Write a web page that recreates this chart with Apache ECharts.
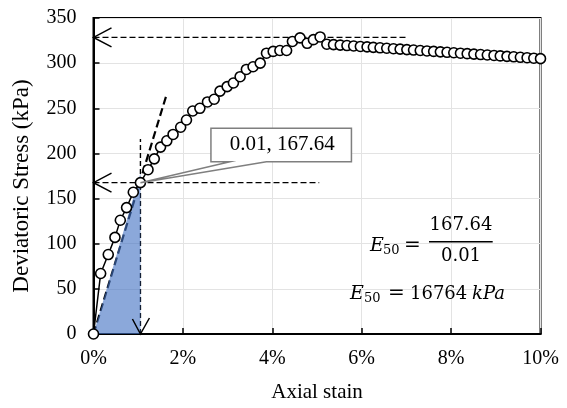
<!DOCTYPE html>
<html><head><meta charset="utf-8">
<script src="https://cdn.jsdelivr.net/npm/echarts@6/dist/echarts.min.js"></script>
<style>html,body{margin:0;padding:0;background:#fff}#c{width:567px;height:408px}</style>
</head><body><div id="c"></div>
<script>
// Axial strain (%) and deviatoric stress (kPa)
const strain = [0,0.16,0.33,0.48,0.60,0.74,0.89,1.05,1.22,1.36,1.50,1.64,1.78,1.95,2.08,2.22,2.38,2.55,2.70,2.83,2.99,3.13,3.28,3.42,3.57,3.73,3.87,4.02,4.17,4.32,4.45,4.62,4.78,4.92,5.07,5.22,
  5.37,5.52,5.67,5.82,5.97,6.12,6.26,6.41,6.56,6.71,6.86,7.01,7.16,7.31,7.46,7.61,7.76,7.91,8.06,8.21,8.36,8.51,8.66,8.81,8.96,9.10,9.25,9.40,9.55,9.70,9.85,10.0];
const stress = [0,67,88,107,126,140,157,167.64,182,194,207,214,221,229,237,247,250,257,260,269,274,278,285,293,296,300,311,313,314,314,324,328,322,326,329,321,
  320.5,320,319.5,319,318.5,318,317.5,317,316.5,316,315.5,315,314.5,314,313.5,313,312.5,312,311.5,311,310.5,310,309.5,309,308.5,308,307.5,307,306.5,306,305.5,305];
const xTickValues = [0,2,4,6,8,10];
const yTickValues = [0,50,100,150,200,250,300,350];
const peakLine = [[0,328.5],[7.0,328.5]];
const halfLine = [[0,167.64],[5.05,167.64]];
const strainLine = [[1.05,0],[1.05,216]];
const tangentLine = [[0,0],[1.64,266]];
const triangle = [[0,0],[1.05,178]];
const calloutPoint = [1.05,167.64];
const calloutText = '0.01, 167.64';
const yName = 'Deviatoric Stress (kPa)';

const FONT = '"Liberation Serif", "Times New Roman", serif';
const MFONT = '"DejaVu Serif", serif';
const chart = echarts.init(document.getElementById('c'));
const dashed = (data, w, dash, z) => ({type:'line', data, symbol:'none', silent:true, z,
  lineStyle:{color:'#000', width:w, type:dash}, animation:false});

chart.setOption({
  animation:false,
  grid:{left:93.5, right:26.5, top:18, bottom:70.5, show:true, borderColor:'#000', borderWidth:2, containLabel:false},
  xAxis:{type:'value', min:0, max:10, interval:2,
    name:'Axial stain', nameLocation:'middle', nameGap:48,
    nameTextStyle:{fontFamily:FONT, fontSize:21, color:'#000'},
    axisLine:{lineStyle:{color:'#000', width:2}},
    axisTick:{inside:true, length:6, lineStyle:{color:'#000', width:1.5}},
    axisLabel:{margin:15, fontFamily:FONT, fontSize:20, color:'#000', formatter:v=>v+'%'},
    splitLine:{show:true, lineStyle:{color:'#e3e3e3', width:1}}},
  yAxis:{type:'value', min:0, max:350, interval:50,
    axisLine:{show:true, lineStyle:{color:'#000', width:2}},
    axisTick:{show:true, inside:true, length:6, lineStyle:{color:'#000', width:1.5}},
    axisLabel:{margin:17, fontFamily:FONT, fontSize:20, color:'#000'},
    splitLine:{show:true, lineStyle:{color:'#e3e3e3', width:1}}},
  series:[
    dashed(peakLine, 1.4, [6,3], 2),
    dashed(halfLine, 1.4, [6,3], 2),
    dashed(strainLine, 1.4, [5,3], 2),
    dashed(tangentLine, 2.2, [8,4], 2),
    {type:'line', data:triangle, symbol:'none', silent:true, z:3,
      lineStyle:{width:0}, areaStyle:{color:'rgba(68,114,196,0.62)', opacity:1, origin:'start'}},
    {type:'line', data:strain.map((s,i)=>[s,stress[i]]), z:5,
      symbol:'circle', symbolSize:10, showAllSymbol:true,
      lineStyle:{color:'#000', width:1.5},
      itemStyle:{color:'#fff', borderColor:'#000', borderWidth:1.6}}
  ]
});

const P = (p)=>chart.convertToPixel({gridIndex:0}, p);
const g = [];
function arrow(tip, a, b){
  g.push({type:'polyline', silent:true, z:10, shape:{points:[[tip[0]+a[0],tip[1]+a[1]], tip, [tip[0]+b[0],tip[1]+b[1]]]},
    style:{stroke:'#000', lineWidth:1.5, fill:null}});
}
const t1 = P(peakLine[0]); arrow(t1,[18,-9.5],[18,9.5]);
const t2 = P(halfLine[0]); arrow(t2,[18,-9.5],[18,9.5]);
const t3 = P(strainLine[0]); arrow(t3,[-8,-15],[9,-16]);

// y-axis title
g.push({type:'text', silent:true, z:12, x:22, y:186, rotation:Math.PI/2,
  style:{text:yName, x:0, y:0, textAlign:'center', textVerticalAlign:'middle', align:'center', verticalAlign:'middle',
    font:'23px '+FONT, fill:'#000'}});

// callout
const tip = P(calloutPoint);
const bx0 = tip[0]+70.5, bx1 = tip[0]+211, by0 = tip[1]-54.5, by1 = tip[1]-21;
g.push({type:'polygon', silent:true, z:11, shape:{points:[[bx0,by0],[bx1,by0],[bx1,by1],[tip[0]+126,by1],tip,[tip[0]+89.5,by1],[bx0,by1]]},
  style:{fill:'#fff', stroke:'#7f7f7f', lineWidth:1.5}});
g.push({type:'text', silent:true, z:12, style:{text:calloutText, x:(bx0+bx1)/2+1, y:(by0+by1)/2,
  textAlign:'center', textVerticalAlign:'middle', align:'center', verticalAlign:'middle', font:'21px '+FONT, fill:'#000'}});

// equations
function txt(s, x, y, font, al){
  g.push({type:'text', silent:true, z:12, style:{text:s, x, y, textAlign:al||'left', align:al||'left',
    textVerticalAlign:'middle', verticalAlign:'middle', font, fill:'#000'}});
}
const EF = 'italic 19px '+MFONT, SF = '13px '+MFONT, NF = '18px '+MFONT, QF = '20px '+MFONT;
txt('E', 370, 246.5, EF);
txt('50', 383, 251, SF);
txt('=', 412.5, 246, QF, 'center');
txt('167.64', 461, 225, NF, 'center');
g.push({type:'line', silent:true, z:12, shape:{x1:429, y1:241.7, x2:492.7, y2:241.7}, style:{stroke:'#000', lineWidth:1.6}});
txt('0.01', 461, 256, NF, 'center');
txt('E', 350, 294, EF);
txt('50', 364, 298.5, SF);
txt('=', 396.5, 293.5, QF, 'center');
txt('16764', 410, 294, NF);
txt('kPa', 472, 294, 'italic 18px '+MFONT);
chart.setOption({graphic:{elements:g}});
</script></body></html>
